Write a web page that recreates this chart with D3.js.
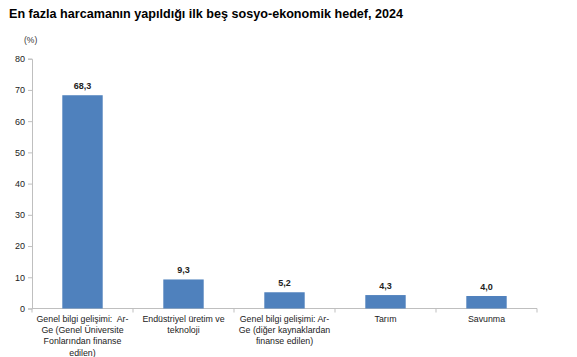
<!DOCTYPE html>
<html><head><meta charset="utf-8">
<script src="https://cdn.jsdelivr.net/npm/d3@7"></script>
<style>body{margin:0;background:#fff;font-family:"Liberation Sans",Arial,sans-serif}</style>
</head><body>
<svg id="c" width="577" height="357"></svg>
<script>
const categories = [
  ["Genel bilgi gelişimi:  Ar-","Ge (Genel Üniversite","Fonlarından finanse","edilen)"],
  ["Endüstriyel üretim ve","teknoloji"],
  ["Genel bilgi gelişimi: Ar-","Ge (diğer kaynaklardan","finanse edilen)"],
  ["Tarım"],
  ["Savunma"]
];
const values = [68.3, 9.3, 5.2, 4.3, 4.0];
const yTicks = [0,10,20,30,40,50,60,70,80];
const title = "En fazla harcamanın yapıldığı ilk beş sosyo-ekonomik hedef, 2024";

const svg = d3.select("#c");
const L = 32, R = 537, T = 58.7, B = 308.5;
const x = d3.scaleBand().domain(d3.range(values.length)).range([L,R]).paddingInner(0.6).paddingOuter(0.3);
const xb = d3.scaleBand().domain(d3.range(values.length)).range([L,R]);
const y = d3.scaleLinear().domain([0,80]).range([B,T]);

svg.append("text").attr("x",9).attr("y",18).attr("font-size",12.6).attr("font-weight","bold").attr("fill","#000").text(title);
svg.append("text").attr("x",24).attr("y",43).attr("font-size",8.5).attr("fill","#333").text("(%)");

// y axis
const gy = svg.append("g").attr("transform",`translate(${L},0)`)
  .call(d3.axisLeft(y).tickValues(yTicks).tickSize(4).tickPadding(3).tickFormat(d3.format("d")));
gy.select(".domain").attr("stroke","#bfbfbf");
gy.selectAll(".tick line").attr("stroke","#bfbfbf");
gy.selectAll(".tick text").attr("font-size",9).attr("fill","#222").attr("font-family","Liberation Sans, Arial, sans-serif");

// x axis
const gx = svg.append("g").attr("transform",`translate(0,${B})`);
gx.append("line").attr("x1",L).attr("x2",R).attr("y1",0).attr("y2",0).attr("stroke","#bfbfbf");
const bounds = d3.range(values.length+1).map(i => i<values.length ? xb(i) : R);
gx.selectAll("line.t").data(bounds).join("line").attr("class","t")
  .attr("x1",d=>d).attr("x2",d=>d).attr("y1",0).attr("y2",4).attr("stroke","#bfbfbf");

svg.selectAll("rect.bar").data(values).join("rect").attr("class","bar")
  .attr("x",(d,i)=>x(i)).attr("width",x.bandwidth())
  .attr("y",d=>y(d)).attr("height",d=>B-y(d)).attr("fill","#4F81BD");

svg.selectAll("text.val").data(values).join("text").attr("class","val")
  .attr("x",(d,i)=>x(i)+x.bandwidth()/2).attr("y",d=>y(d)-6)
  .attr("text-anchor","middle").attr("font-size",9).attr("font-weight","bold").attr("fill","#222")
  .text(d=>d3.format(".1f")(d).replace(".",","));

categories.forEach((lines,i)=>{
  const t = svg.append("text").attr("text-anchor","middle").attr("font-size",8.8).attr("fill","#222")
    .style("white-space","pre");
  lines.forEach((ln,j)=>{
    t.append("tspan").attr("x",xb(i)+xb.bandwidth()/2).attr("y",322+j*11.2).text(ln);
  });
});
</script>
</body></html>
